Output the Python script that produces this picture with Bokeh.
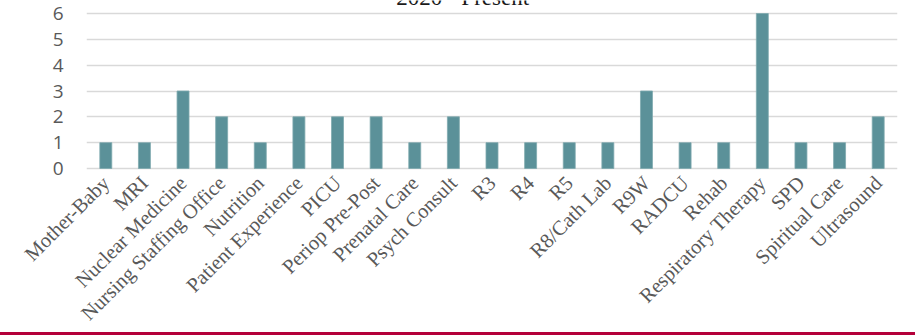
import math
from bokeh.plotting import figure
from bokeh.models import ColumnDataSource, FactorRange, Range1d, FixedTicker, Label, InlineStyleSheet
from bokeh.embed import file_html
from bokeh.resources import INLINE

categories = ["Mother-Baby", "MRI", "Nuclear Medicine", "Nursing Staffing Office", "Nutrition",
              "Patient Experience", "PICU", "Periop Pre-Post", "Prenatal Care", "Psych Consult",
              "R3", "R4", "R5", "R8/Cath Lab", "R9W", "RADCU", "Rehab", "Respiratory Therapy",
              "SPD", "Spiritual Care", "Ultrasound"]
counts = [1, 1, 3, 2, 1, 2, 2, 2, 1, 2, 1, 1, 1, 1, 3, 1, 1, 6, 1, 1, 2]
y_ticks = [0, 1, 2, 3, 4, 5, 6]
title_text = "2020 - Present"

source = ColumnDataSource(dict(cat=categories, n=counts))

# pixel geometry: value 6 at 13px, value 0 at 168px; frame runs from canvas top to 8px below zero
px_per_unit = 155 / 6
y_top = 168 / px_per_unit
y_bottom = -8 / px_per_unit

p = figure(x_range=FactorRange(*categories), y_range=Range1d(y_bottom, y_top),
           width=915, height=335, output_backend="svg", toolbar_location=None,
           min_border_left=86, min_border_right=18, min_border_top=0, min_border_bottom=159)
p.outline_line_color = None
p.background_fill_color = "white"
p.border_fill_color = "white"

p.vbar(x="cat", top="n", bottom=0, width=0.31, source=source,
       fill_color="#5B9199", line_color="#7FA9AF", line_width=0.8)

p.yaxis.ticker = FixedTicker(ticks=y_ticks)
p.yaxis.axis_line_color = None
p.yaxis.major_tick_line_color = None
p.yaxis.minor_tick_line_color = None
p.yaxis.major_tick_out = 0
p.yaxis.major_tick_in = 0
p.yaxis.major_label_standoff = 23
p.yaxis.major_label_text_font = "Open Sans"
p.yaxis.major_label_text_font_size = "19px"
p.yaxis.major_label_text_color = "#595959"

p.xaxis.axis_line_color = None
p.xaxis.major_tick_line_color = None
p.xaxis.major_tick_out = 0
p.xaxis.major_tick_in = 0
p.xaxis.major_label_standoff = 3
p.xaxis.major_label_orientation = math.pi / 4
p.xaxis.major_label_text_font = "Liberation Serif"
p.xaxis.major_label_text_font_size = "20.5px"
p.xaxis.major_label_text_color = "#595959"

p.xgrid.grid_line_color = None
p.ygrid.ticker = FixedTicker(ticks=y_ticks)
p.ygrid.grid_line_color = "#D9D9D9"
p.ygrid.grid_line_width = 1.5

title = Label(x=9.74, y=6.62, text=title_text,
              text_align="center", text_baseline="alphabetic",
              text_font="Liberation Serif", text_font_size="23px", text_color="#1a1a1a")
p.add_layout(title)

p.stylesheets = [InlineStyleSheet(css=":host::after { content: ''; position: absolute; left: 0; top: 332px; "
                                      "width: 915px; height: 3px; background: #B4003A; z-index: 100; }")]

open("out.html", "w").write(file_html(p, INLINE))
